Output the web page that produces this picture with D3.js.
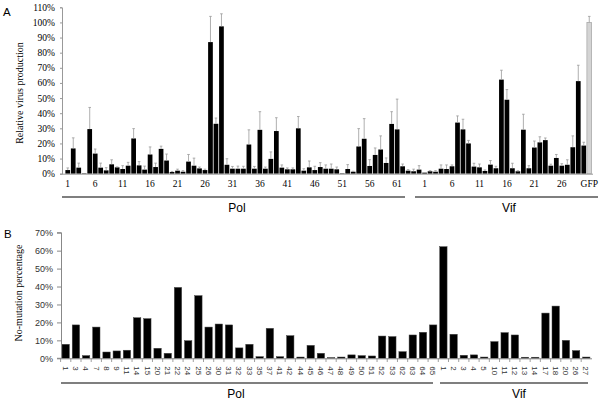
<!DOCTYPE html>
<html>
<head>
<meta charset="utf-8">
<script src="https://cdn.jsdelivr.net/npm/d3@7"></script>
<style>
  body { margin: 0; background: #fff; }
  svg { display: block; }
  .serif { font-family: 'Liberation Serif', 'Times New Roman', serif; }
  .sans { font-family: 'Liberation Sans', Arial, sans-serif; }
</style>
</head>
<body>
<div class="container"></div>
<script>
// Panel A: relative virus production (%) with error bars
var polA = [2.4, 16.7, 4, 0.3, 29.5, 13.3, 4, 2.2, 6.2, 4.2,
  3.1, 5.3, 23.3, 5.5, 2.7, 12.7, 4.4, 16.4, 8.7, 1.1,
  2, 1.3, 8, 5.3, 3.5, 2.4, 87, 33, 97.4, 5.9,
  3.3, 3.3, 3.3, 19.3, 3.3, 29, 3.3, 9.8, 28.2, 4,
  2.9, 2.9, 30, 2, 4.2, 2.4, 4.4, 3.3, 3.3, 2.9,
  0.3, 3.1, 1.3, 18, 23.1, 5.1, 12.4, 16, 7.1, 32.9,
  29.3, 4.9, 2, 1.6, 2.7]
var polAErr = [1.4, 7, 3, 0, 14.3, 3, 3, 1.8, 3, 0.3,
  2.2, 2.2, 6.5, 2.5, 2.3, 5, 2.6, 1.8, 4.3, 0.4,
  1, 0.7, 4.7, 5, 0.9, 0.6, 17, 3.8, 8.3, 4,
  1.5, 1.7, 1.6, 9.7, 1.5, 12, 1.1, 4.6, 8.8, 1.8,
  0.9, 0.9, 7.8, 1.3, 4.2, 2.5, 2.9, 2.5, 3.1, 1.5,
  0, 2.9, 0.3, 11.8, 13.3, 4.2, 4.6, 9, 3.3, 8.1,
  20, 1.5, 0.7, 1.4, 2.6]
var vifA = [0.7, 1.6, 1.3, 3.3, 3.1, 4.9, 33.8, 29.3, 20, 4.7,
  4.2, 1.8, 6, 3.6, 62.2, 48.9, 3.6, 1.6, 29.1, 3.6,
  17.3, 20.7, 22.2, 5.3, 10.4, 5.3, 5.9, 17.5, 61.2, 18.6]
var vifAErr = [0, 0.4, 0.7, 2.5, 2.7, 0.9, 4.4, 6.7, 2, 2.2,
  2.2, 0.7, 2.7, 1.3, 6.2, 6.7, 3.3, 0.4, 10.2, 1.7,
  4.3, 3.7, 1.4, 1, 2.3, 1.3, 3.3, 7.5, 10.5, 2.2]
var gfpA = 100
var gfpAErr = 4
var yTicksA = [0, 10, 20, 30, 40, 50, 60, 70, 80, 90, 100, 110]

// Panel B: no-mutation percentage
var polBLabels = ['1', '3', '4', '7', '8', '9', '11', '14', '15', '20',
  '21', '22', '24', '25', '26', '30', '31', '32', '33', '35',
  '37', '41', '42', '44', '45', '46', '47', '48', '49', '50',
  '51', '52', '53', '62', '63', '64', '65']
var polB = [7.8, 18.6, 1.5, 17.4, 3.5, 4.1, 4.5, 22.6, 22.1, 5.6,
  2.8, 39.5, 9.8, 34.9, 17.4, 19.1, 18.6, 5.8, 7.8, 0.9,
  16.7, 0.9, 12.6, 0.7, 7.2, 2.8, 0.4, 0.7, 1.9, 1.5,
  1.3, 12.4, 12.1, 3.7, 13, 14.5, 18.6]
var vifBLabels = ['1', '2', '3', '4', '5', '10', '11', '12', '13', '14',
  '17', '18', '20', '26', '27']
var vifB = [62.2, 13.4, 1.7, 1.9, 0.7, 9.3, 14.3, 13, 0.6, 0.6,
  25.2, 29.1, 10, 4.3, 0.7]
var yTicksB = [0, 10, 20, 30, 40, 50, 60, 70]

var W = 600
var H = 402

var svg = d3.select('.container')
            .append('svg')
            .attr('width', W)
            .attr('height', H)

// ---------- panel A ----------
var dataA = polA.map(function (v, i) {
  return { key: 'P' + (i + 1), label: String(i + 1), value: v, err: polAErr[i], gfp: false }
}).concat(vifA.map(function (v, i) {
  return { key: 'V' + (i + 1), label: String(i + 1), value: v, err: vifAErr[i], gfp: false }
})).concat([{ key: 'GFP', label: 'GFP', value: gfpA, err: gfpAErr, gfp: true }])

var xA = d3.scaleBand()
           .domain(dataA.map(function (d) { return d.key }))
           .range([65, 592])
           .paddingInner(0.14)
           .paddingOuter(0.07)
var yA = d3.scaleLinear().domain([0, 110]).range([173.7, 7.3])

var gA = svg.append('g')

// bars
gA.selectAll('rect.bar')
  .data(dataA)
  .enter().append('rect')
  .attr('class', 'bar')
  .attr('x', function (d) { return xA(d.key) })
  .attr('width', xA.bandwidth())
  .attr('y', function (d) { return yA(d.value) })
  .attr('height', function (d) { return yA(0) - yA(d.value) })
  .attr('fill', function (d) { return d.gfp ? '#d4d4d4' : '#000' })
  .attr('stroke', function (d) { return d.gfp ? '#999' : 'none' })
  .attr('stroke-width', 0.6)

// error bars
var errA = gA.selectAll('g.err')
             .data(dataA.filter(function (d) { return d.err > 0 }))
             .enter().append('g')
             .attr('class', 'err')
             .attr('stroke', '#9a9a9a')
             .attr('stroke-width', 0.8)
errA.append('line')
    .attr('x1', function (d) { return xA(d.key) + xA.bandwidth() / 2 })
    .attr('x2', function (d) { return xA(d.key) + xA.bandwidth() / 2 })
    .attr('y1', function (d) { return yA(d.value) })
    .attr('y2', function (d) { return yA(d.value + d.err) })
errA.append('line')
    .attr('x1', function (d) { return xA(d.key) + xA.bandwidth() / 2 - 1.3 })
    .attr('x2', function (d) { return xA(d.key) + xA.bandwidth() / 2 + 1.3 })
    .attr('y1', function (d) { return yA(d.value + d.err) })
    .attr('y2', function (d) { return yA(d.value + d.err) })

// y axis
var yAxisA = gA.append('g')
               .attr('class', 'serif')
               .attr('transform', 'translate(62,0)')
               .call(d3.axisLeft(yA).tickValues(yTicksA).tickSize(2).tickPadding(5)
                 .tickFormat(function (d) { return d + '%' }))
yAxisA.selectAll('text').attr('font-size', 9.5).attr('fill', '#000')
yAxisA.selectAll('line').attr('stroke', '#999')
yAxisA.select('.domain').attr('stroke', '#999')

// x axis
var tickKeysA = dataA.filter(function (d, i) {
  if (d.gfp) return true
  var n = +d.label
  return (n - 1) % 5 === 0
}).map(function (d) { return d.key })
var labelOfA = {}
dataA.forEach(function (d) { labelOfA[d.key] = d.label })

var xAxisA = gA.append('g')
               .attr('class', 'serif')
               .attr('transform', 'translate(0,173.7)')
               .call(d3.axisBottom(xA).tickValues(tickKeysA).tickSize(0).tickPadding(7)
                 .tickFormat(function (k) { return labelOfA[k] }))
xAxisA.selectAll('text').attr('font-size', 9.5).attr('fill', '#000')
xAxisA.select('.domain').attr('stroke', '#999').attr('d', 'M62,0.5H593')

// group underlines
gA.append('line').attr('x1', 62).attr('x2', 405).attr('y1', 197).attr('y2', 197)
  .attr('stroke', '#000').attr('stroke-width', 1.2)
gA.append('line').attr('x1', 415).attr('x2', 598).attr('y1', 197).attr('y2', 197)
  .attr('stroke', '#000').attr('stroke-width', 1.2)
gA.append('text').attr('class', 'sans').attr('x', 237).attr('y', 212)
  .attr('text-anchor', 'middle').attr('font-size', 12).text('Pol')
gA.append('text').attr('class', 'sans').attr('x', 509).attr('y', 212)
  .attr('text-anchor', 'middle').attr('font-size', 12).text('Vif')

gA.append('text').attr('class', 'serif')
  .attr('transform', 'translate(23,93) rotate(-90)')
  .attr('text-anchor', 'middle').attr('font-size', 10)
  .text('Relative virus production')
gA.append('text').attr('class', 'sans').attr('x', 3).attr('y', 15.5)
  .attr('font-size', 11.5).text('A')

// ---------- panel B ----------
var dataB = polBLabels.map(function (l, i) {
  return { key: 'P' + l, label: l, value: polB[i] }
}).concat(vifBLabels.map(function (l, i) {
  return { key: 'V' + l, label: l, value: vifB[i] }
}))
var labelOfB = {}
dataB.forEach(function (d) { labelOfB[d.key] = d.label })

var xB = d3.scaleBand()
           .domain(dataB.map(function (d) { return d.key }))
           .range([61, 591])
           .paddingInner(0.28)
           .paddingOuter(0.1)
var yB = d3.scaleLinear().domain([0, 70]).range([358.3, 232.7])

var gB = svg.append('g')

gB.selectAll('rect.bar')
  .data(dataB)
  .enter().append('rect')
  .attr('class', 'bar')
  .attr('x', function (d) { return xB(d.key) })
  .attr('width', xB.bandwidth())
  .attr('y', function (d) { return yB(d.value) })
  .attr('height', function (d) { return yB(0) - yB(d.value) })
  .attr('fill', '#000')
  .attr('stroke', '#444')
  .attr('stroke-width', 0.5)

var yAxisB = gB.append('g')
               .attr('class', 'sans')
               .attr('transform', 'translate(61,0)')
               .call(d3.axisLeft(yB).tickValues(yTicksB).tickSize(4).tickPadding(4)
                 .tickFormat(function (d) { return d + '%' }))
yAxisB.selectAll('text').attr('font-size', 9).attr('fill', '#333')
yAxisB.selectAll('line').attr('stroke', '#888')
yAxisB.select('.domain').attr('stroke', '#888').attr('d', 'M-4,232.7H0.5V358.3H-4')

var xAxisB = gB.append('g')
               .attr('class', 'sans')
               .attr('transform', 'translate(0,358.3)')
               .call(d3.axisBottom(xB).tickSize(0).tickPadding(0)
                 .tickFormat(function (k) { return labelOfB[k] }))
xAxisB.selectAll('text')
      .attr('font-size', 8)
      .attr('fill', '#333')
      .attr('transform', 'rotate(90)')
      .attr('x', 8)
      .attr('y', 0)
      .attr('dy', '0.35em')
      .style('text-anchor', 'start')
xAxisB.select('.domain').attr('stroke', '#888').attr('d', 'M61,0.5H592')

// small ticks between categories
var stepB = xB.step()
gB.selectAll('line.sep')
  .data(dataB)
  .enter().append('line')
  .attr('class', 'sep')
  .attr('x1', function (d) { return xB(d.key) - stepB * xB.paddingInner() / 2 })
  .attr('x2', function (d) { return xB(d.key) - stepB * xB.paddingInner() / 2 })
  .attr('y1', 358.3).attr('y2', 362)
  .attr('stroke', '#888').attr('stroke-width', 0.8)

gB.append('line').attr('x1', 61).attr('x2', 433).attr('y1', 383).attr('y2', 383)
  .attr('stroke', '#000').attr('stroke-width', 1.2)
gB.append('line').attr('x1', 440).attr('x2', 588).attr('y1', 383).attr('y2', 383)
  .attr('stroke', '#000').attr('stroke-width', 1.2)
gB.append('text').attr('class', 'sans').attr('x', 236).attr('y', 398)
  .attr('text-anchor', 'middle').attr('font-size', 12).text('Pol')
gB.append('text').attr('class', 'sans').attr('x', 519).attr('y', 398)
  .attr('text-anchor', 'middle').attr('font-size', 12).text('Vif')

gB.append('text').attr('class', 'serif')
  .attr('transform', 'translate(22,293) rotate(-90)')
  .attr('text-anchor', 'middle').attr('font-size', 10)
  .text('No-mutation percentage')
gB.append('text').attr('class', 'sans').attr('x', 4).attr('y', 237.5)
  .attr('font-size', 11.5).text('B')
</script>
</body>
</html>
